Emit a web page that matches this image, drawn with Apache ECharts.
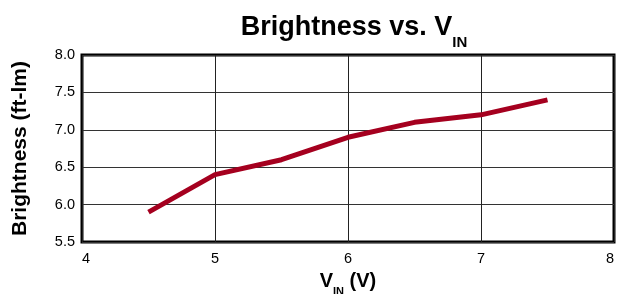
<!DOCTYPE html>
<html>
<head>
<meta charset="utf-8">
<script src="https://cdn.jsdelivr.net/npm/echarts@6/dist/echarts.min.js"></script>
<style>html,body{margin:0;padding:0;background:#fff}#c{width:619px;height:294px}</style>
</head>
<body>
<div id="c"></div>
<script>
var vin = [4.5, 5.0, 5.5, 6.0, 6.5, 7.0, 7.5];
var brightness = [5.9, 6.4, 6.6, 6.9, 7.1, 7.2, 7.4];
var xTicks = [4, 5, 6, 7, 8];
var yTicks = [5.5, 6.0, 6.5, 7.0, 7.5, 8.0];

var chart = echarts.init(document.getElementById('c'), null, {renderer: 'canvas'});
var font = 'Liberation Sans, Arial, sans-serif';
chart.setOption({
  animation: false,
  backgroundColor: '#fff',
  title: {
    text: '{a|Brightness vs. V}{b|IN}',
    left: 349, top: 9, textAlign: 'center',
    textStyle: {
      rich: {
        a: {fontFamily: font, fontSize: 27, fontWeight: 'bold', color: '#000', lineHeight: 29, verticalAlign: 'top'},
        b: {fontFamily: font, fontSize: 15, fontWeight: 'bold', color: '#000', lineHeight: 15, padding: [21, 0, 0, 0], verticalAlign: 'top'}
      }
    }
  },
  grid: {left: 82, right: 5, top: 55, bottom: 52, show: true, borderColor: '#000', borderWidth: 3, backgroundColor: 'transparent', outerBoundsMode: 'none', containLabel: false},
  xAxis: {
    type: 'value', min: xTicks[0], max: xTicks[xTicks.length - 1], interval: 1,
    axisLine: {show: false}, axisTick: {show: false},
    splitLine: {show: true, lineStyle: {color: '#222', width: 1}},
    axisLabel: {fontFamily: font, fontSize: 14.5, color: '#000', margin: 9, alignMinLabel: 'left', alignMaxLabel: 'right'},
    name: '{a|V}{b|IN}{a| (V)}', nameLocation: 'middle', nameGap: 29,
    nameTextStyle: {
      rich: {
        a: {fontFamily: font, fontSize: 20, fontWeight: 'bold', color: '#000', lineHeight: 22, verticalAlign: 'top'},
        b: {fontFamily: font, fontSize: 11, fontWeight: 'bold', color: '#000', lineHeight: 11, padding: [15, 0, 0, 0], verticalAlign: 'top'}
      }
    }
  },
  yAxis: {
    type: 'value', min: yTicks[0], max: yTicks[yTicks.length - 1], interval: 0.5,
    axisLine: {show: false}, axisTick: {show: false},
    splitLine: {show: true, lineStyle: {color: '#333', width: 1}},
    axisLabel: {fontFamily: font, fontSize: 14.5, color: '#000', margin: 7, formatter: function (v) { return v.toFixed(1); }},
    name: 'Brightness (ft-lm)', nameLocation: 'middle', nameGap: 51, nameRotate: 90,
    nameTextStyle: {fontFamily: font, fontSize: 21, fontWeight: 'bold', color: '#000'}
  },
  series: [{
    type: 'line', data: vin.map(function (x, i) { return [x, brightness[i]]; }),
    symbol: 'none', lineStyle: {color: '#a5001f', width: 5, cap: 'butt', join: 'round'}
  }]
});
</script>
</body>
</html>
